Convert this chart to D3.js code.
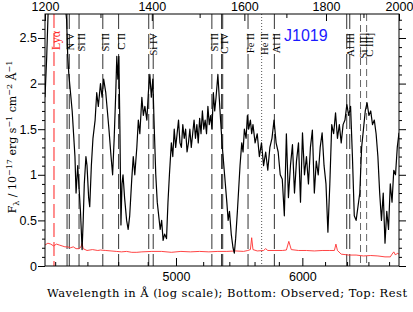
<!DOCTYPE html>
<html>
<head>
<meta charset="utf-8">
<script src="https://cdn.jsdelivr.net/npm/d3@7/dist/d3.min.js"></script>
<style>
  body { margin: 0; background: #fff; }
  svg { display: block; }
</style>
</head>
<body>
<svg></svg>
<script>
// rest-frame wavelength (A), flux (1e-17 erg/s/cm2/A)
const spectrum = [
  [1200,1.85],[1203,2.3],[1206,2.9],[1210,3.4],[1215,3.8],[1220,3.6],[1225,3.4],[1230,3.1],[1235,2.9],[1238,2.7],
  [1240,2.3],[1242,2.1],[1245,1.9],[1248,1.7],[1250,1.5],[1253,1.2],[1255,0.8],[1258,1.1],[1260,0.9],[1263,0.6],
  [1266,0.18],[1268,0.5],[1270,0.9],[1273,1.2],[1275,1.1],[1278,0.75],[1280,0.65],[1283,1.1],[1286,1.4],[1290,1.6],
  [1293,1.9],[1296,1.75],[1300,2.0],[1303,1.85],[1306,2.05],[1310,1.9],[1313,1.7],[1316,1.5],[1320,1.2],[1323,1.0],
  [1326,1.4],[1329,1.9],[1331,2.3],[1333,2.05],[1335,2.3],[1337,1.5],[1339,0.45],[1341,0.9],[1343,1.0],[1346,0.75],
  [1350,0.5],[1353,0.4],[1356,0.55],[1360,0.95],[1363,1.2],[1366,1.0],[1370,1.3],[1373,1.6],[1376,1.45],[1380,1.85],
  [1383,1.65],[1386,1.75],[1390,1.6],[1393,1.9],[1396,2.1],[1399,1.85],[1402,2.05],[1405,1.5],[1408,1.0],[1411,0.7],
  [1414,0.55],[1417,0.4],[1420,0.5],[1423,0.28],[1426,0.35],[1430,0.3],[1433,0.7],[1436,1.0],[1440,1.35],[1443,1.2],
  [1446,1.5],[1449,1.3],[1452,1.45],[1455,1.6],[1458,1.35],[1461,1.3],[1464,1.55],[1467,1.4],[1470,1.5],[1473,1.25],
  [1476,1.35],[1479,1.5],[1482,1.3],[1485,1.45],[1488,1.6],[1491,1.4],[1494,1.55],[1497,1.35],[1500,1.62],[1503,1.45],
  [1506,1.7],[1509,1.5],[1512,1.6],[1515,1.45],[1518,1.75],[1521,1.55],[1524,1.65],[1527,1.5],[1530,1.9],[1533,1.7],
  [1536,1.85],[1540,2.1],[1543,1.85],[1546,1.6],[1550,1.3],[1555,1.0],[1560,0.7],[1563,0.5],[1566,0.6],[1570,0.35],
  [1574,0.2],[1577,0.14],[1580,0.3],[1584,0.6],[1587,0.85],[1590,1.1],[1594,1.35],[1597,1.25],[1600,1.5],[1604,1.4],
  [1607,1.65],[1610,1.5],[1614,1.6],[1617,1.45],[1620,1.55],[1625,1.35],[1630,1.45],[1635,1.2],[1640,1.35],[1645,1.1],
  [1650,1.25],[1655,1.05],[1660,1.3],[1665,1.4],[1670,1.6],[1675,1.35],[1680,1.25],[1685,1.0],[1690,0.95],[1695,0.55],
  [1700,1.45],[1705,0.75],[1710,1.1],[1715,1.33],[1720,0.8],[1725,1.15],[1730,1.35],[1735,0.7],[1740,1.46],[1745,1.0],
  [1750,1.2],[1755,0.9],[1760,1.3],[1765,1.49],[1770,0.8],[1775,1.15],[1780,1.0],[1785,1.3],[1790,1.46],[1795,1.1],
  [1800,0.9],[1805,0.37],[1810,0.9],[1815,1.55],[1820,1.45],[1825,1.68],[1830,1.4],[1835,1.55],[1840,1.35],[1845,1.55],
  [1850,1.6],[1855,1.77],[1860,1.65],[1865,1.75],[1870,1.2],[1875,0.55],[1880,0.5],[1885,0.65],[1890,0.8],[1895,1.3],
  [1900,1.5],[1905,1.7],[1910,1.79],[1915,1.65],[1920,1.7],[1925,1.55],[1930,1.6],[1935,1.45],[1940,1.2],[1945,0.8],
  [1950,0.5],[1955,0.8],[1960,0.25],[1965,0.6],[1970,0.4],[1975,0.9],[1980,0.7],[1985,1.05],[1990,1.0],[1995,1.3],
  [2000,1.46]
];

// 1-sigma error spectrum
const errorSpectrum = [
  [1200,0.23],[1205,0.25],[1210,0.24],[1215,0.22],[1220,0.24],[1225,0.23],[1230,0.22],[1235,0.21],[1240,0.21],[1245,0.2],
  [1250,0.21],[1255,0.19],[1260,0.19],[1264,0.21],[1266,0.25],[1268,0.19],[1275,0.17],[1285,0.18],[1295,0.17],[1300,0.175],
  [1310,0.17],[1320,0.165],[1330,0.16],[1340,0.155],[1350,0.16],[1360,0.15],[1370,0.15],[1380,0.155],[1400,0.16],[1420,0.16],
  [1440,0.15],[1460,0.16],[1480,0.155],[1500,0.16],[1520,0.155],[1540,0.16],[1560,0.16],[1580,0.165],[1598,0.16],[1608,0.17],
  [1614,0.18],[1617,0.31],[1620,0.18],[1630,0.165],[1645,0.17],[1650,0.19],[1655,0.17],[1670,0.17],[1690,0.17],[1700,0.175],
  [1706,0.27],[1712,0.18],[1730,0.17],[1750,0.17],[1770,0.165],[1790,0.17],[1810,0.17],[1822,0.17],[1826,0.24],[1830,0.17],
  [1840,0.13],[1860,0.12],[1880,0.12],[1900,0.11],[1920,0.115],[1940,0.11],[1960,0.10],[1975,0.10],[1980,0.13],[1985,0.155],
  [1990,0.12],[1995,0.14],[2000,0.13]
];

const restTicks = [1200, 1400, 1600, 1800, 2000];
const restMinor = [1300, 1500, 1700, 1900];
const obsTicks = [5000, 6000];
const obsMinor = [4200, 4400, 4600, 4800, 5200, 5400, 5600, 5800, 6200, 6400, 6600, 6800];
const fluxTicks = [0, 0.5, 1, 1.5, 2, 2.5];
const fluxMinor = [0.1, 0.2, 0.3, 0.4, 0.6, 0.7, 0.8, 0.9, 1.1, 1.2, 1.3, 1.4, 1.6, 1.7, 1.8, 1.9, 2.1, 2.2, 2.3, 2.4, 2.6, 2.7];

// line identifications (rest wavelengths)
const lineIds = [
  {label: "Lyα",    waves: [1215.67],          kind: "lya"},
  {label: "N V",    waves: [1238.8, 1242.8],   kind: "metal"},
  {label: "Si II",  waves: [1260.4],           kind: "metal"},
  {label: "Si II",  waves: [1304.4],           kind: "metal"},
  {label: "C II",   waves: [1334.5],           kind: "metal"},
  {label: "Si IV",  waves: [1393.8, 1402.8],   kind: "metal"},
  {label: "Si II",  waves: [1526.7],           kind: "metal"},
  {label: "C IV",   waves: [1548.2, 1550.8],   kind: "metal"},
  {label: "Fe II",  waves: [1608.5],           kind: "metal"},
  {label: "He II",  waves: [1640.4],           kind: "dotted"},
  {label: "Al II",  waves: [1670.8],           kind: "metal"},
  {label: "Al III", waves: [1854.7, 1862.8],   kind: "metal"},
  {label: "Si III]",waves: [1892.0],           kind: "semi"},
  {label: "C III]", waves: [1908.7],           kind: "semi"}
];

const zqso = 2.449;
const objectName = "J1019";

const width = 413, height = 312,
      margin = {top: 14, right: 14, bottom: 46, left: 45};

const svg = d3.select("svg").attr("width", width).attr("height", height);

const x = d3.scaleLog()
    .domain([1200, 2000])
    .range([margin.left, width - margin.right]);

const xObs = d3.scaleLog()
    .domain([1200 * (1 + zqso), 2000 * (1 + zqso)])
    .range([margin.left, width - margin.right]);

const y = d3.scaleLinear()
    .domain([0, 2.763])
    .range([height - margin.bottom, margin.top]);

const lineStyles = {
  lya:    {stroke: "#ff2020", dash: "14,5", width: 1},
  metal:  {stroke: "#333",    dash: "15,5", width: 1},
  dotted: {stroke: "#555",    dash: "1,2",  width: 1},
  semi:   {stroke: "#666",    dash: "7,4",  width: 1}
};

svg.append("defs").append("clipPath").attr("id", "plotclip")
  .append("rect")
    .attr("x", margin.left).attr("y", margin.top)
    .attr("width", width - margin.left - margin.right)
    .attr("height", height - margin.top - margin.bottom);

// line markers
const markers = svg.append("g").attr("class", "markers");
lineIds.forEach(d => {
  const st = lineStyles[d.kind];
  d.waves.forEach(w => {
    markers.append("line")
      .attr("x1", x(w)).attr("x2", x(w))
      .attr("y1", margin.top).attr("y2", height - margin.bottom)
      .attr("stroke", st.stroke)
      .attr("stroke-width", st.width)
      .attr("stroke-dasharray", st.dash);
  });
});

// spectra
const line = d3.line().x(d => x(d[0])).y(d => y(d[1]));

svg.append("path")
  .datum(errorSpectrum)
  .attr("clip-path", "url(#plotclip)")
  .attr("fill", "none")
  .attr("stroke", "#ff3030")
  .attr("stroke-width", 0.9)
  .attr("d", line);

svg.append("path")
  .datum(spectrum)
  .attr("clip-path", "url(#plotclip)")
  .attr("fill", "none")
  .attr("stroke", "#000")
  .attr("stroke-width", 1.2)
  .attr("stroke-linejoin", "round")
  .attr("d", line);

// line labels
lineIds.forEach(d => {
  const cx = x(d3.mean(d.waves)) + 6;
  svg.append("text")
    .attr("transform", `translate(${cx},${d.kind === "lya" ? 31 : 33}) rotate(-90)`)
    .attr("text-anchor", "end")
    .attr("font-family", "Liberation Serif, serif")
    .attr("font-size", d.kind === "lya" ? 12 : 10.5)
    .attr("fill", d.kind === "lya" ? "#ff2020" : "#000")
    .text(d.label);
});

// axes
const tickFont = "Liberation Sans, Arial, sans-serif";

function styleAxis(g) {
  g.select(".domain").remove();
  g.selectAll("line").attr("stroke", "#000");
  g.selectAll("text").attr("font-family", tickFont).attr("font-size", 12.5).attr("fill", "#000");
}

svg.append("g")
  .attr("transform", `translate(0,${margin.top})`)
  .call(d3.axisTop(x).tickValues(restTicks).tickSize(-7).tickPadding(3.5).tickFormat(d3.format("d")))
  .call(styleAxis);
svg.append("g")
  .attr("transform", `translate(0,${margin.top})`)
  .call(d3.axisTop(x).tickValues(restMinor).tickSize(-4).tickFormat(""))
  .call(styleAxis);

svg.append("g")
  .attr("transform", `translate(0,${height - margin.bottom})`)
  .call(d3.axisBottom(xObs).tickValues(obsTicks).tickSize(-8).tickPadding(6).tickFormat(d3.format("d")))
  .call(styleAxis);
svg.append("g")
  .attr("transform", `translate(0,${height - margin.bottom})`)
  .call(d3.axisBottom(xObs).tickValues(obsMinor).tickSize(-4).tickFormat(""))
  .call(styleAxis);

svg.append("g")
  .attr("transform", `translate(${margin.left},0)`)
  .call(d3.axisLeft(y).tickValues(fluxTicks).tickSize(7).tickPadding(1).tickFormat(d => d))
  .call(styleAxis);
svg.append("g")
  .attr("transform", `translate(${margin.left},0)`)
  .call(d3.axisLeft(y).tickValues(fluxMinor).tickSize(3).tickFormat(""))
  .call(styleAxis);

svg.append("g")
  .attr("transform", `translate(${width - margin.right},0)`)
  .call(d3.axisRight(y).tickValues(fluxTicks).tickSize(7).tickFormat(""))
  .call(styleAxis);
svg.append("g")
  .attr("transform", `translate(${width - margin.right},0)`)
  .call(d3.axisRight(y).tickValues(fluxMinor).tickSize(3).tickFormat(""))
  .call(styleAxis);

// frame
svg.append("rect")
  .attr("x", margin.left).attr("y", margin.top)
  .attr("width", width - margin.left - margin.right)
  .attr("height", height - margin.top - margin.bottom)
  .attr("fill", "none").attr("stroke", "#000").attr("stroke-width", 1);

// object name
svg.append("text")
  .attr("x", 284).attr("y", 41)
  .attr("font-family", tickFont)
  .attr("font-size", 16)
  .attr("fill", "#1a1aff")
  .text(objectName);

// axis titles
svg.append("text")
  .attr("x", 47).attr("y", 297)
  .attr("font-family", "DejaVu Serif, serif")
  .attr("font-size", 11.5)
  .attr("textLength", 360)
  .attr("lengthAdjust", "spacing")
  .text("Wavelength in Å (log scale); Bottom: Observed; Top: Rest");

const ylab = svg.append("text")
  .attr("transform", "translate(16,137) rotate(-90)")
  .attr("text-anchor", "middle")
  .attr("font-family", "DejaVu Serif, serif")
  .attr("font-size", 11);
ylab.append("tspan").text("F");
ylab.append("tspan").attr("dy", 3).attr("font-size", 8).text("λ");
ylab.append("tspan").attr("dy", -3).text(" / 10");
ylab.append("tspan").attr("dy", -4).attr("font-size", 8).text("−17");
ylab.append("tspan").attr("dy", 4).text(" erg s");
ylab.append("tspan").attr("dy", -4).attr("font-size", 8).text("−1");
ylab.append("tspan").attr("dy", 4).text(" cm");
ylab.append("tspan").attr("dy", -4).attr("font-size", 8).text("−2");
ylab.append("tspan").attr("dy", 4).text(" Å");
ylab.append("tspan").attr("dy", -4).attr("font-size", 8).text("−1");
</script>
</body>
</html>
